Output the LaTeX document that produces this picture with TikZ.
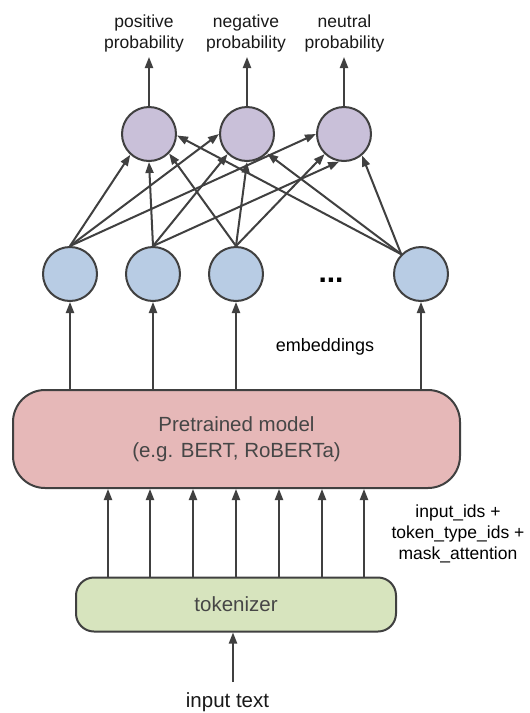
\documentclass[tikz,border=0pt]{standalone}
\usepackage{fontspec}
\setmainfont{Liberation Sans}
\usetikzlibrary{arrows.meta}
\definecolor{linec}{RGB}{64,64,64}
\definecolor{purplef}{RGB}{201,192,217}
\definecolor{bluef}{RGB}{184,204,228}
\definecolor{pinkf}{RGB}{230,184,184}
\definecolor{greenf}{RGB}{215,228,190}
\definecolor{boxtext}{RGB}{70,70,70}
\definecolor{labtext}{RGB}{25,25,25}
\tikzset{
  neuron/.style={circle, draw=linec, line width=2pt, minimum size=54pt, inner sep=0pt},
  outn/.style={neuron, fill=purplef},
  embn/.style={neuron, fill=bluef},
  arr/.style={draw=linec, line width=2pt, -{Triangle[length=11pt,width=8pt]}},
  lab/.style={text=labtext, font=\fontsize{17.5pt}{21pt}\selectfont, align=center, inner sep=0pt},
  boxtxt/.style={text=boxtext, align=center},
}
\begin{document}
\begin{tikzpicture}[x=1pt,y=-1pt]
\useasboundingbox[fill=white] (0,0) rectangle (530,713);

% output neurons
\node[outn] (p1) at (149,134) {};
\node[outn] (p2) at (247,134) {};
\node[outn] (p3) at (344,134) {};

% embedding neurons
\node[embn] (b1) at (70,274) {};
\node[embn] (b2) at (153,274) {};
\node[embn] (b3) at (236,274) {};
\node[embn] (b4) at (421,274) {};
\node[font=\fontsize{30pt}{30pt}\selectfont\bfseries, inner sep=0pt, anchor=base] (dots) at (331,282) {...};

% labels
\coordinate (top) at (0,57);
\node[lab] (lpos) at (144,33.3) {positive\\probability};
\node[lab] (lneg) at (246,33.3) {negative\\probability};
\node[lab] (lneu) at (344.5,33.3) {neutral\\probability};
\draw[arr] (p1.north) -- (p1.north |- top);
\draw[arr] (p2.north) -- (p2.north |- top);
\draw[arr] (p3.north) -- (p3.north |- top);

% connections
\draw[arr] (b1.north) -- (p1.-132);
\draw[arr] (b1.north) -- (p2.180);
\draw[arr] (b1.north) -- (p3.180);
\draw[arr] (b2.north) -- (p1.-90);
\draw[arr] (b2.north) -- (p2.-134);
\draw[arr] (b2.north) -- (p3.-100);
\draw[arr] (b3.north) -- (p1.-44);
\draw[arr] (b3.north) -- (p2.-90);
\draw[arr] (b3.north) -- (p3.-134);
\draw[arr] (b4.135) -- (p1.-3);
\draw[arr] (b4.135) -- (p2.-44);
\draw[arr] (b4.135) -- (p3.-50);

% pretrained model
\node[draw=linec, line width=2pt, fill=pinkf, rounded corners=32pt,
      minimum width=447pt, minimum height=98pt, boxtxt,
      font=\fontsize{20.5pt}{26pt}\selectfont] (model) at (236.5,439)
      {Pretrained model\\(e.g. BERT, RoBERTa)};
\node[lab, text=black, font=\fontsize{18pt}{21pt}\selectfont, anchor=base] (emb) at (325,351.5) {embeddings};
\draw[arr] (model.north -| b1) -- (b1.south);
\draw[arr] (model.north -| b2) -- (b2.south);
\draw[arr] (model.north -| b3) -- (b3.south);
\draw[arr] (model.north -| b4) -- (b4.south);

% tokenizer
\node[draw=linec, line width=2pt, fill=greenf, rounded corners=18pt,
      minimum width=320pt, minimum height=54pt, boxtxt,
      font=\fontsize{20.5pt}{24pt}\selectfont] (tok) at (236,604.5) {tokenizer};
\foreach \d in {-128,-86,-43,0,43,86,128}{
  \draw[arr] ([xshift=\d pt]tok.north) -- ([xshift=\d pt]tok.north |- model.south);
}
\node[lab, text=black] (ids) at (458,534.3) {input\_ids +\\token\_type\_ids +\\mask\_attention};

% input
\coordinate (inbot) at (233,682);
\draw[arr] (inbot) -- (inbot |- tok.south);
\node[text=labtext, font=\fontsize{20.5pt}{24pt}\selectfont, inner sep=0pt, anchor=base] (intext) at (227.5,707.5) {input text};
\end{tikzpicture}
\end{document}
